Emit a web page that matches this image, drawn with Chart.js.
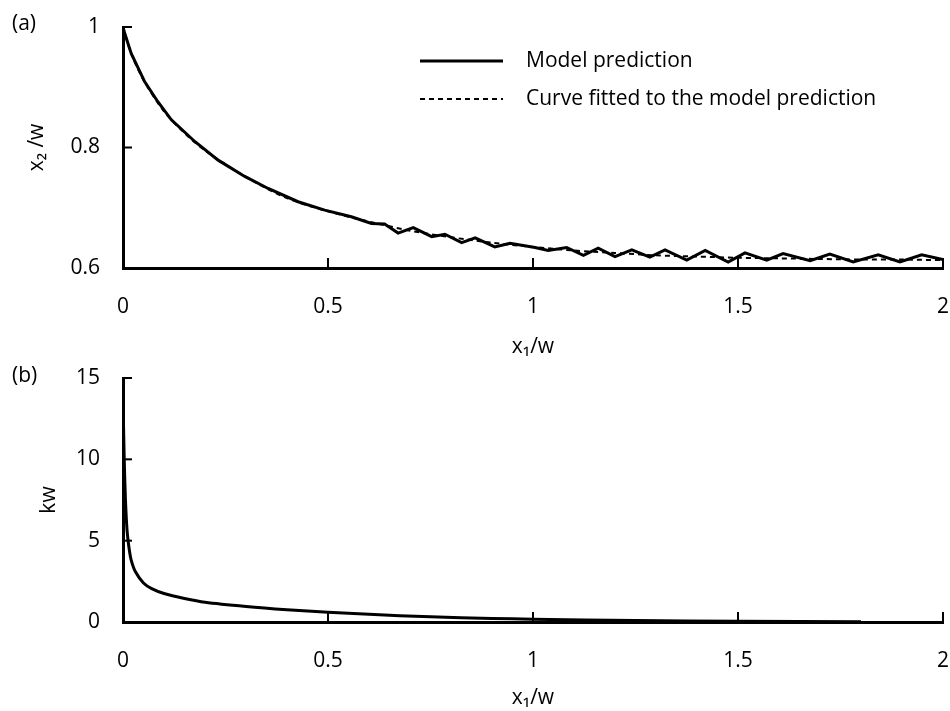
<!DOCTYPE html>
<html>
<head>
<meta charset="utf-8">
<title>x2/w and kw against x1/w</title>
<script src="https://cdn.jsdelivr.net/npm/chart.js@4.4.0/dist/chart.umd.min.js"></script>
<style>
  body { margin: 0; background: #fff; }
  .panel { position: absolute; left: 0; width: 950px; }
  .tag { position: absolute; left: 12px; font: 21px "Open Sans", sans-serif; color: #000; line-height: 28px; }
</style>
</head>
<body>
<div class="panel" style="top:0;height:360px;"><canvas id="graficoA" width="950" height="360"></canvas></div>
<div class="panel" style="top:360px;height:351px;"><canvas id="graficoB" width="950" height="351"></canvas></div>
<div class="tag" style="top:8px;">(a)</div>
<div class="tag" style="top:360px;">(b)</div>
<script>
// ==================================== DADOS =========================================//

const xTicks = [0, 0.5, 1, 1.5, 2];

// (a) model prediction
const modelX = [0, 0.004, 0.02, 0.053, 0.085, 0.118, 0.175, 0.232, 0.297, 0.354, 0.427, 0.492,
  0.557, 0.606, 0.638, 0.671, 0.708, 0.753, 0.785, 0.826, 0.859, 0.907, 0.944, 1.005, 1.037,
  1.082, 1.123, 1.159, 1.2, 1.241, 1.285, 1.322, 1.375, 1.42, 1.476, 1.517, 1.57, 1.61, 1.676,
  1.724, 1.781, 1.842, 1.895, 1.948, 2.0];
const modelY = [1.0, 0.99, 0.956, 0.909, 0.876, 0.846, 0.81, 0.779, 0.752, 0.732, 0.71, 0.696,
  0.685, 0.674, 0.673, 0.658, 0.667, 0.652, 0.656, 0.642, 0.65, 0.635, 0.641, 0.634, 0.629,
  0.634, 0.621, 0.633, 0.619, 0.63, 0.618, 0.63, 0.613, 0.629, 0.61, 0.625, 0.613, 0.624, 0.612,
  0.623, 0.61, 0.622, 0.61, 0.622, 0.614];

// (a) fitted curve
const fitX = [0, 0.02, 0.05, 0.1, 0.15, 0.2, 0.3, 0.4, 0.5, 0.6, 0.7, 0.8, 0.9, 1.0, 1.1, 1.2,
  1.3, 1.4, 1.5, 1.6, 1.7, 1.8, 1.9, 2.0];
const fitY = [1.0, 0.956, 0.912, 0.86, 0.824, 0.795, 0.751, 0.716, 0.694, 0.677, 0.662, 0.651,
  0.642, 0.635, 0.629, 0.625, 0.621, 0.619, 0.617, 0.616, 0.615, 0.614, 0.614, 0.613];

// (b) kw
const kwX = [0.001, 0.003, 0.006, 0.01, 0.015, 0.02, 0.03, 0.05, 0.07, 0.1, 0.15, 0.2, 0.3, 0.4,
  0.5, 0.6, 0.75, 0.9, 1.0, 1.25, 1.5, 1.8];
const kwY = [12.5, 10, 7.5, 5.6, 4.5, 3.8, 3.1, 2.4, 2.05, 1.75, 1.45, 1.22, 0.96, 0.76, 0.6,
  0.47, 0.32, 0.22, 0.17, 0.09, 0.05, 0.02];

const pares = (xs, ys) => xs.map((x, i) => ({ x: x, y: ys[i] }));
const rotulo = (v) => String(Math.round(v * 100) / 100);

Chart.defaults.font.family = "'Open Sans', sans-serif";
Chart.defaults.font.size = 21;
Chart.defaults.color = "#000";

// ticks pointing into the plot, like the original figure
const ticksDentro = {
  id: "ticksDentro",
  afterDraw(chart) {
    const ctx = chart.ctx;
    const a = chart.chartArea;
    const sx = chart.scales.x;
    const sy = chart.scales.y;
    ctx.save();
    ctx.strokeStyle = "#000";
    ctx.lineWidth = 2;
    sx.ticks.forEach((t) => {
      if (t.value === sx.min) return;
      const px = sx.getPixelForValue(t.value);
      ctx.beginPath();
      ctx.moveTo(px, a.bottom);
      ctx.lineTo(px, a.bottom - 10);
      ctx.stroke();
    });
    sy.ticks.forEach((t) => {
      if (t.value === sy.min) return;
      const py = sy.getPixelForValue(t.value);
      ctx.beginPath();
      ctx.moveTo(a.left, py);
      ctx.lineTo(a.left + 9, py);
      ctx.stroke();
    });
    ctx.restore();
  },
};

// legend inside the plot of (a)
const legenda = {
  id: "legenda",
  afterDraw(chart) {
    const ctx = chart.ctx;
    ctx.save();
    ctx.font = "21px 'Open Sans', sans-serif";
    ctx.fillStyle = "#000";
    ctx.textBaseline = "middle";
    chart.data.datasets.forEach((ds, i) => {
      const y = 61 + i * 38;
      ctx.strokeStyle = ds.borderColor;
      ctx.lineWidth = ds.borderWidth;
      ctx.setLineDash(ds.borderDash || []);
      ctx.beginPath();
      ctx.moveTo(420, y);
      ctx.lineTo(503, y);
      ctx.stroke();
      ctx.setLineDash([]);
      ctx.fillText(ds.label, 526, y);
    });
    ctx.restore();
  },
};

// the outer tick marks are invisible: they only push the labels away from the axis
function eixoX() {
  return {
    type: "linear",
    min: 0,
    max: 2,
    afterBuildTicks: (s) => { s.ticks = xTicks.map((v) => ({ value: v })); },
    ticks: { padding: 0, maxRotation: 0, callback: rotulo },
    grid: { drawOnChartArea: false, drawTicks: true, tickLength: 26, tickColor: "rgba(0,0,0,0)" },
    border: { display: true, width: 3, color: "#000" },
    title: { display: true, text: "x\u2081/w", padding: { top: 0, bottom: 0 } },
  };
}

function eixoY(min, max, passo, titulo, recuo) {
  return {
    min: min,
    max: max,
    ticks: { stepSize: passo, padding: 0, callback: rotulo },
    grid: { drawOnChartArea: false, drawTicks: true, tickLength: 23, tickColor: "rgba(0,0,0,0)" },
    border: { display: true, width: 3, color: "#000" },
    title: { display: true, text: titulo, padding: { top: recuo, bottom: 0 } },
    afterFit: (s) => { s.width = 123; },
  };
}

// ==================================== GRAFICO A =========================================//

const dataA = {
  datasets: [
    {
      label: "Model prediction",
      data: pares(modelX, modelY),
      borderColor: "#000",
      borderWidth: 3,
      pointRadius: 0,
      tension: 0,
    },
    {
      label: "Curve fitted to the model prediction",
      data: pares(fitX, fitY),
      borderColor: "#000",
      borderWidth: 2,
      borderDash: [5, 4],
      pointRadius: 0,
      tension: 0.3,
    },
  ],
};

const xA = eixoX();
xA.afterFit = (s) => { s.height = 92; };

const configA = {
  type: "line",
  data: dataA,
  options: {
    responsive: false,
    animation: false,
    layout: { padding: { top: 27, right: 7, left: 0, bottom: 0 } },
    plugins: { legend: { display: false }, tooltip: { enabled: false } },
    scales: {
      x: xA,
      y: eixoY(0.6, 1, 0.2, "x\u2082 /w", 24),
    },
  },
  plugins: [ticksDentro, legenda],
};

// ==================================== GRAFICO B =========================================//

const dataB = {
  datasets: [
    {
      label: "kw",
      data: pares(kwX, kwY),
      borderColor: "#000",
      borderWidth: 3,
      pointRadius: 0,
      tension: 0.3,
    },
  ],
};

const xB = eixoX();
xB.afterFit = (s) => { s.height = 89; };

const configB = {
  type: "line",
  data: dataB,
  options: {
    responsive: false,
    animation: false,
    layout: { padding: { top: 18, right: 7, left: 0, bottom: 0 } },
    plugins: { legend: { display: false }, tooltip: { enabled: false } },
    scales: {
      x: xB,
      y: eixoY(0, 15, 5, "kw", 36),
    },
  },
  plugins: [ticksDentro],
};

const graficoA = new Chart(document.getElementById("graficoA"), configA);
const graficoB = new Chart(document.getElementById("graficoB"), configB);
</script>
</body>
</html>
